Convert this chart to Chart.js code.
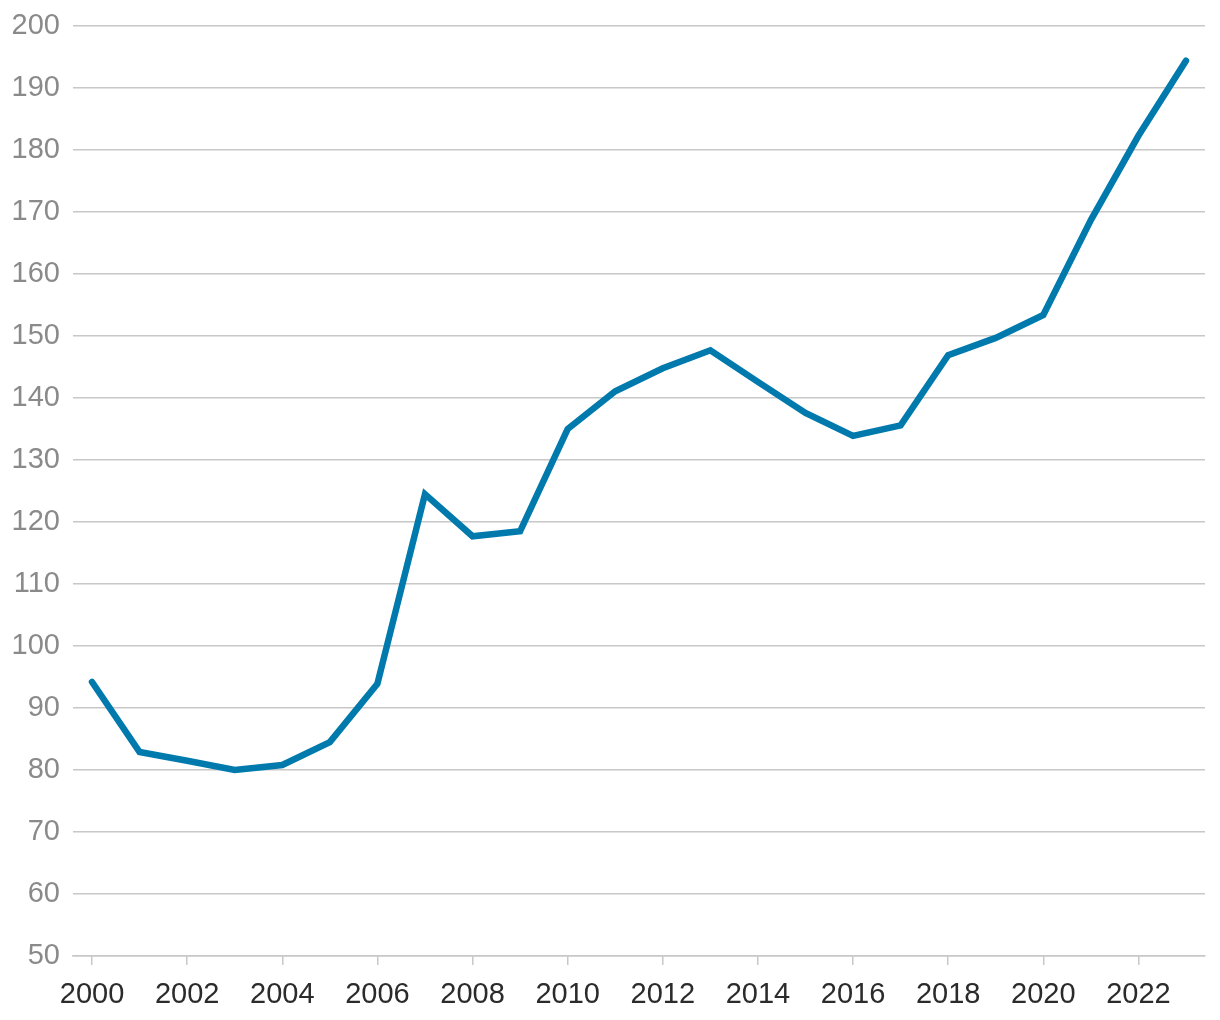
<!DOCTYPE html>
<html>
<head>
<meta charset="utf-8">
<script src="https://cdn.jsdelivr.net/npm/chart.js@4"></script>
<style>
  html, body { margin: 0; padding: 0; background: #fff; }
  #wrap { width: 1220px; height: 1020px; }
</style>
</head>
<body>
<div id="wrap"><canvas id="chart"></canvas></div>
<script>
// values
const years = [2000, 2001, 2002, 2003, 2004, 2005, 2006, 2007, 2008, 2009, 2010, 2011,
               2012, 2013, 2014, 2015, 2016, 2017, 2018, 2019, 2020, 2021, 2022, 2023]
const values = [94.2, 82.9, 81.5, 80.0, 80.8, 84.5, 93.9, 124.5, 117.7, 118.5, 135.0, 141.1,
                144.8, 147.7, 142.6, 137.6, 133.9, 135.6, 146.9, 149.7, 153.4, 168.7, 182.3, 194.4]
const xTicks = [2000, 2002, 2004, 2006, 2008, 2010, 2012, 2014, 2016, 2018, 2020, 2022]

const gridColor = '#c8c8c8'
const family = "'Liberation Sans', Arial, sans-serif"

new Chart(document.getElementById('chart'), {
    type: 'line',
    data: {
        datasets: [{
            data: years.map((y, i) => ({ x: y, y: values[i] })),
            borderColor: '#007aad',
            borderWidth: 6.5,
            borderCapStyle: 'round',
            pointRadius: 0,
            tension: 0
        }]
    },
    options: {
        responsive: true,
        maintainAspectRatio: false,
        animation: false,
        layout: { padding: { top: 0, right: 15, left: 0, bottom: 0 } },
        plugins: { legend: { display: false }, tooltip: { enabled: false } },
        scales: {
            x: {
                type: 'linear',
                min: 1999.6,
                max: 2023.4,
                afterBuildTicks: scale => { scale.ticks = xTicks.map(v => ({ value: v })) },
                afterFit: scale => { scale.height = 64 },
                grid: { drawOnChartArea: false, drawTicks: true, tickLength: 9, color: gridColor, lineWidth: 1.5 },
                border: { display: true, color: gridColor, width: 1.5 },
                ticks: { color: '#2b2b2b', font: { family: family, size: 29 }, padding: 13,
                         maxRotation: 0, autoSkip: false, callback: v => String(v) }
            },
            y: {
                min: 50,
                max: 200,
                afterFit: scale => { scale.width = 73 },
                grid: { color: gridColor, lineWidth: 1.5, drawTicks: false },
                border: { display: false },
                // lineHeight trimmed so the top gridline sits where it does in the picture
                ticks: { stepSize: 10, color: '#8a8a8a', font: { family: family, size: 29, lineHeight: 0.9 }, padding: 13 }
            }
        }
    }
})
</script>
</body>
</html>
